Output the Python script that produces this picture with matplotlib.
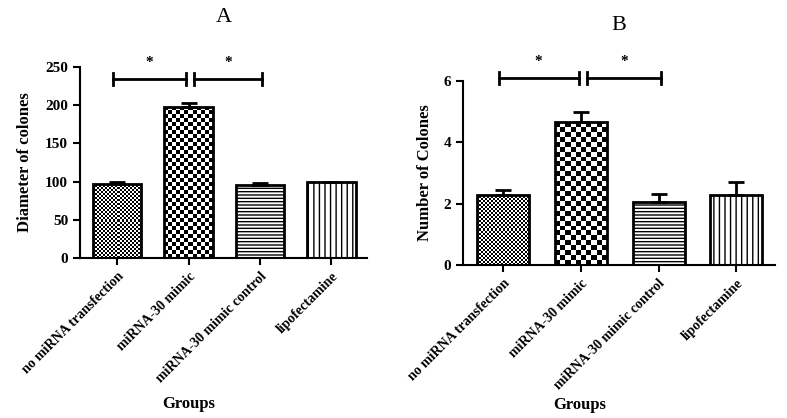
import numpy as np
import matplotlib
matplotlib.use("Agg")
import matplotlib.pyplot as plt

plt.rcParams['font.family'] = ['Liberation Serif', 'DejaVu Serif']

groups = ["no miRNA transfection", "miRNA-30 mimic", "miRNA-30 mimic control", "lipofectamine"]

# panel A: diameter of colonies
diam_mean = [97, 198, 95, 99]
diam_err = [2, 5, 3, 1]
diam_sig = [(0, 1, 234, "*"), (1, 2, 234, "*")]

# panel B: number of colonies
num_mean = [2.3, 4.65, 2.06, 2.3]
num_err = [0.15, 0.35, 0.27, 0.4]
num_sig = [(0, 1, 6.1, "*"), (1, 2, 6.1, "*")]


def checker_fill(ax, bar, cell_px):
    fig = ax.figure
    fig.canvas.draw()
    bb = bar.get_window_extent()
    nx = max(1, int(round(bb.width / cell_px)))
    ny = max(1, int(round(bb.height / cell_px)))
    img = np.indices((ny, nx)).sum(0) % 2
    x0, y0 = bar.get_x(), bar.get_y()
    im = ax.imshow(img, cmap="gray", interpolation="nearest", aspect="auto",
                   extent=(x0, x0 + bar.get_width(), y0, y0 + bar.get_height()),
                   zorder=1)
    im.set_clip_path(bar)


def draw_panel(ax, means, errs, sigs, ylim, yticks, ylabel, title, title_y, width):
    x = np.arange(len(means))
    bars = ax.bar(x, means, width=width, color="white", edgecolor="black",
                  linewidth=2.0, zorder=2)
    bars[0].set_facecolor("none")
    bars[1].set_facecolor("none")
    bars[2].set_hatch("-----")
    bars[3].set_hatch("|||")
    ax.errorbar(x, means, yerr=[np.zeros(len(errs)), errs], fmt="none",
                ecolor="black", elinewidth=2, capsize=6, capthick=2, zorder=3)
    ax.set_ylim(*ylim)
    ax.set_xlim(-0.52, 3.5)
    ax.set_yticks(yticks)
    ax.set_xticks(x)
    ax.set_xticklabels(groups, rotation=45, ha="right", rotation_mode="anchor",
                       fontsize=10, fontweight="bold")
    for lab in ax.get_yticklabels():
        lab.set_fontweight("bold")
        lab.set_fontsize(11)
    ax.tick_params(direction="out", length=5, width=1.5)
    for s in ["top", "right"]:
        ax.spines[s].set_visible(False)
    for s in ["left", "bottom"]:
        ax.spines[s].set_linewidth(1.5)
    ax.set_ylabel(ylabel, fontsize=12, fontweight="bold")
    ax.set_xlabel("Groups", fontsize=12, fontweight="bold")
    ax.set_title(title, fontsize=16, y=title_y)

    span = ylim[1] - ylim[0]
    for i, j, yv, txt in sigs:
        xa = i - 0.06 if i == 0 else i + 0.08
        xb = j - 0.03 if j == 1 else j + 0.03
        ax.plot([xa, xb], [yv, yv], color="black", lw=2, clip_on=False)
        for xe in (xa, xb):
            ax.plot([xe, xe], [yv - span * 0.032, yv + span * 0.032],
                    color="black", lw=2, clip_on=False)
        ax.text((xa + xb) / 2, yv + span * 0.055, txt, ha="center", va="bottom",
                fontsize=11, fontweight="bold", clip_on=False)
    return bars


fig = plt.figure(figsize=(7.87, 4.18), dpi=100)
axA = fig.add_axes([0.1017, 0.3828, 0.3647, 0.457])
axB = fig.add_axes([0.5883, 0.366, 0.3964, 0.440])

barsA = draw_panel(axA, diam_mean, diam_err, diam_sig, (0, 250), [0, 50, 100, 150, 200, 250],
                   "Diameter of colones", "A", 1.19, 0.68)
barsB = draw_panel(axB, num_mean, num_err, num_sig, (0, 6), [0, 2, 4, 6],
                   "Number of Colones", "B", 1.23, 0.67)

axA.xaxis.set_label_coords(0.38, -0.725)
axB.xaxis.set_label_coords(0.375, -0.72)
axA.yaxis.set_label_coords(-0.165, 0.5)
axB.yaxis.set_label_coords(-0.095, 0.5)

checker_fill(axA, barsA[0], 2)
checker_fill(axA, barsA[1], 4)
checker_fill(axB, barsB[0], 2)
checker_fill(axB, barsB[1], 5)

fig.savefig("out.png", dpi=100)
